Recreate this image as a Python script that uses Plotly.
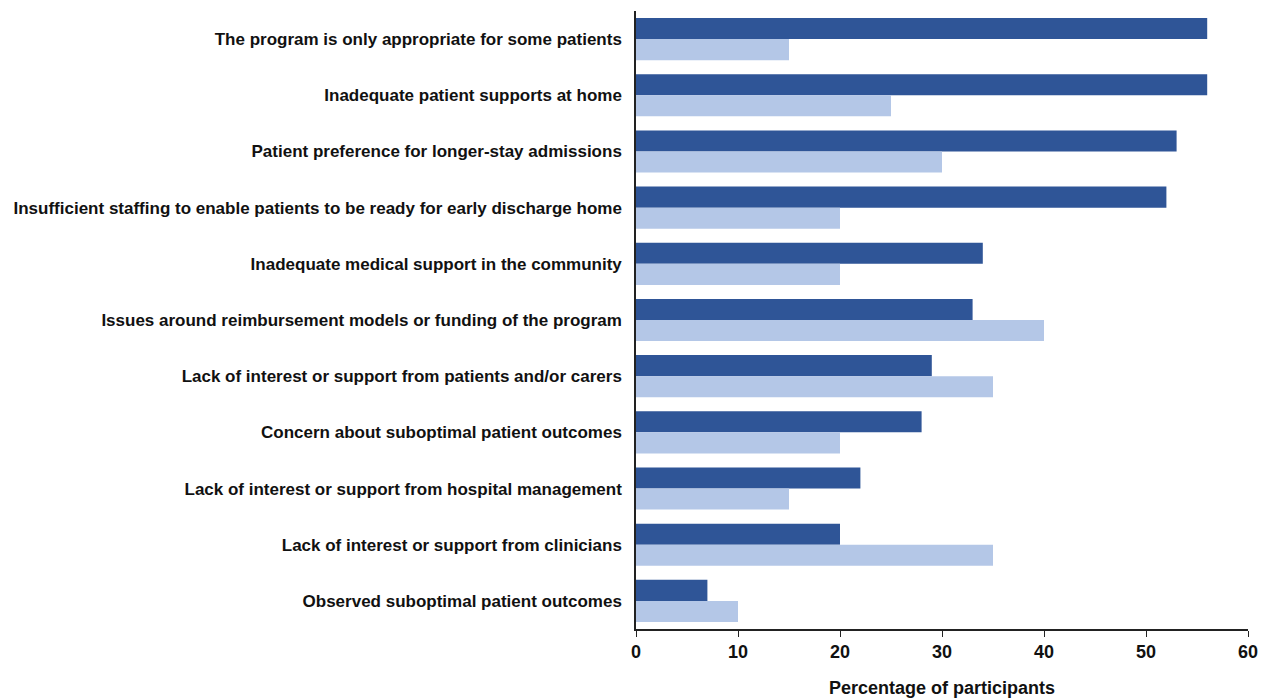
import plotly.graph_objects as go

categories = [
    "The program is only appropriate for some patients",
    "Inadequate patient supports at home",
    "Patient preference for longer-stay admissions",
    "Insufficient staffing to enable patients to be ready for early discharge home",
    "Inadequate medical support in the community",
    "Issues around reimbursement models or funding of the program",
    "Lack of interest or support from patients and/or carers",
    "Concern about suboptimal patient outcomes",
    "Lack of interest or support from hospital management",
    "Lack of interest or support from clinicians",
    "Observed suboptimal patient outcomes",
]
series_a = [56, 56, 53, 52, 34, 33, 29, 28, 22, 20, 7]
series_b = [15, 25, 30, 20, 20, 40, 35, 20, 15, 35, 10]
x_ticks = [0, 10, 20, 30, 40, 50, 60]

fig = go.Figure()
fig.add_trace(go.Bar(y=categories, x=series_a, orientation="h",
                     marker=dict(color="#2F5597", line=dict(width=0)), name="A"))
fig.add_trace(go.Bar(y=categories, x=series_b, orientation="h",
                     marker=dict(color="#B4C7E7", line=dict(width=0)), name="B"))

font_family = "Liberation Sans, Arial, sans-serif"
fig.update_layout(
    barmode="group",
    bargap=0.25,
    bargroupgap=0,
    showlegend=False,
    width=1261, height=690,
    margin=dict(l=628, r=21, t=3, b=69),
    plot_bgcolor="white", paper_bgcolor="white",
    font=dict(family=font_family, size=17, color="#111"),
)
fig.update_xaxes(
    range=[0, 60], tickvals=x_ticks, showgrid=False, zeroline=False,
    showline=True, linecolor="#222", linewidth=1.5,
    ticks="outside", ticklen=6, tickcolor="#222",
    tickfont=dict(size=18, family=font_family, weight="bold"),
    title=dict(text="<b>Percentage of participants</b>", font=dict(size=18), standoff=20),
)
fig.update_yaxes(
    autorange="reversed", showgrid=False, zeroline=False,
    showline=True, linecolor="#222", linewidth=1.5, ticks="",
    tickfont=dict(size=17, family=font_family, weight="bold"),
    ticklabelstandoff=9,
)
fig.write_html("out.html")
